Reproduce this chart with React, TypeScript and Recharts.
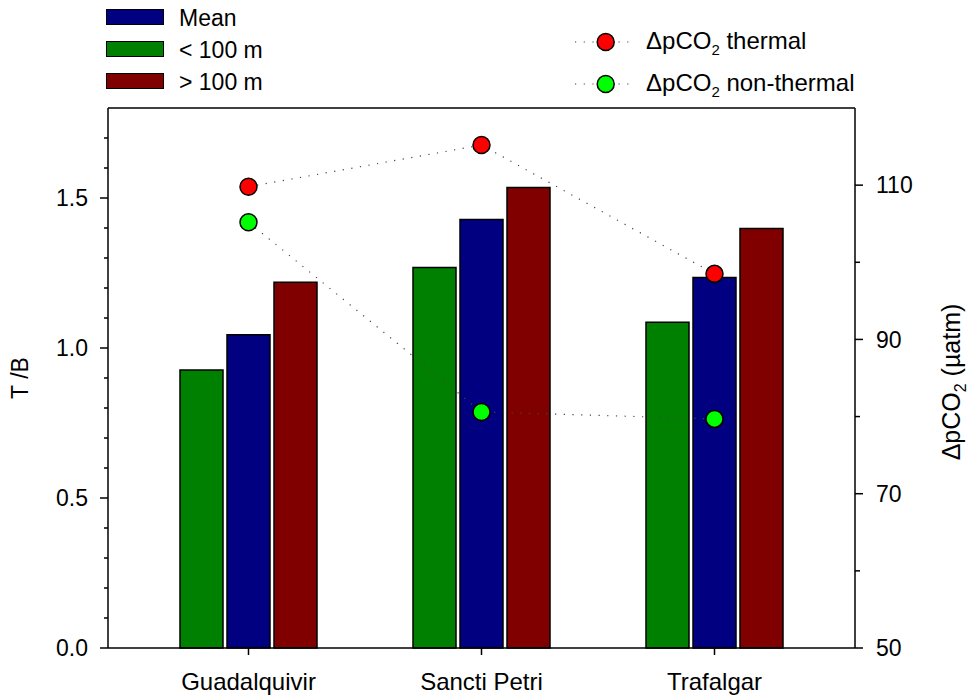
import { ComposedChart, Bar, Line, XAxis, YAxis, ReferenceLine } from 'recharts';

const sites = ['Guadalquivir', 'Sancti Petri', 'Trafalgar'];
const below100 = [0.927, 1.268, 1.086];
const meanTB = [1.044, 1.428, 1.235];
const above100 = [1.219, 1.535, 1.398];
const thermal = [109.8, 115.2, 98.5];
const nonThermal = [105.2, 80.6, 79.7];

const leftTicks = [0, 0.1, 0.2, 0.3, 0.4, 0.5, 0.6, 0.7, 0.8, 0.9, 1.0, 1.1, 1.2, 1.3, 1.4, 1.5, 1.6, 1.7];
const leftLabels = [0, 0.5, 1.0, 1.5];
const rightTicks = [50, 60, 70, 80, 90, 100, 110];
const rightLabels = [50, 70, 90, 110];

const data = sites.map((site, i) => ({
  site,
  below: below100[i],
  mean: meanTB[i],
  above: above100[i],
  thermal: thermal[i],
  nonThermal: nonThermal[i],
}));

const FONT = '"Liberation Sans", Arial, sans-serif';
const GREEN = '#008000';
const BLUE = '#000080';
const RED = '#800000';

const isLabel = (list: number[], v: number) => list.some((l) => Math.abs(l - v) < 1e-6);

const LeftTick = ({ x, y, payload }: any) => {
  const major = isLabel(leftLabels, payload.value);
  return (
    <g>
      <line x1={x} x2={x - (major ? 8 : 4)} y1={y} y2={y} stroke="#000" strokeWidth={1.5} />
      {major && (
        <text x={x - 20} y={y} dy="0.36em" textAnchor="end" fontSize={23} fontFamily={FONT} fill="#000">
          {Number(payload.value).toFixed(1)}
        </text>
      )}
    </g>
  );
};

const RightTick = ({ x, y, payload }: any) => {
  const major = isLabel(rightLabels, payload.value);
  return (
    <g>
      <line x1={x} x2={x + (major ? 8 : 5)} y1={y} y2={y} stroke="#000" strokeWidth={1.5} />
      {major && (
        <text x={x + 21} y={y} dy="0.36em" textAnchor="start" fontSize={23} fontFamily={FONT} fill="#000">
          {payload.value}
        </text>
      )}
    </g>
  );
};

const BottomTick = ({ x, y, payload }: any) => (
  <g>
    <line x1={x} x2={x} y1={y} y2={y + 7} stroke="#000" strokeWidth={1.5} />
    <text x={x} y={y + 42} textAnchor="middle" fontSize={24} fontFamily={FONT} fill="#000">
      {payload.value}
    </text>
  </g>
);

const barLegend = [
  { label: 'Mean', color: BLUE, top: 9 },
  { label: '< 100 m', color: GREEN, top: 41 },
  { label: '> 100 m', color: RED, top: 73 },
];

const dotLegend = [
  { color: '#ff0000', cy: 42, text: ' thermal' },
  { color: '#00ff00', cy: 84, text: ' non-thermal' },
];

export default function App() {
  return (
    <div style={{ position: 'absolute', left: 0, top: 0, width: 970, height: 697, background: '#fff', fontFamily: FONT }}>
      <ComposedChart
        width={970}
        height={697}
        data={data}
        margin={{ top: 108, right: 0, bottom: 0, left: 0 }}
        barSize={43}
        barGap={4}
      >
        <XAxis
          dataKey="site"
          height={49}
          padding={{ left: 24, right: 24 }}
          axisLine={{ stroke: '#000', strokeWidth: 1.5 }}
          tickLine={false}
          tickSize={0}
          tickMargin={0}
          interval={0}
          tick={(p: any) => <BottomTick {...p} />}
        />
        <YAxis
          yAxisId="left"
          width={108}
          domain={[0, 1.8]}
          ticks={leftTicks}
          interval={0}
          axisLine={{ stroke: '#000', strokeWidth: 1.5 }}
          tickLine={false}
          tickSize={0}
          tickMargin={0}
          tick={(p: any) => <LeftTick {...p} />}
        />
        <YAxis
          yAxisId="right"
          orientation="right"
          width={115}
          domain={[50, 120]}
          ticks={rightTicks}
          interval={0}
          axisLine={{ stroke: '#000', strokeWidth: 1.5 }}
          tickLine={false}
          tickSize={0}
          tickMargin={0}
          tick={(p: any) => <RightTick {...p} />}
        />
        <ReferenceLine yAxisId="left" y={1.8} stroke="#000" strokeWidth={1.5} />
        <Bar yAxisId="left" dataKey="below" fill={GREEN} stroke="#000" strokeWidth={1.5} isAnimationActive={false} />
        <Bar yAxisId="left" dataKey="mean" fill={BLUE} stroke="#000" strokeWidth={1.5} isAnimationActive={false} />
        <Bar yAxisId="left" dataKey="above" fill={RED} stroke="#000" strokeWidth={1.5} isAnimationActive={false} />
        <Line
          yAxisId="right"
          type="linear"
          dataKey="thermal"
          stroke="#444"
          strokeWidth={1.2}
          strokeDasharray="1.2 7.5"
          dot={{ r: 8.5, fill: '#ff0000', stroke: '#000', strokeWidth: 1.5, strokeDasharray: 'none' }}
          activeDot={false}
          isAnimationActive={false}
        />
        <Line
          yAxisId="right"
          type="linear"
          dataKey="nonThermal"
          stroke="#444"
          strokeWidth={1.2}
          strokeDasharray="1.2 7.5"
          dot={{ r: 8.5, fill: '#00ff00', stroke: '#000', strokeWidth: 1.5, strokeDasharray: 'none' }}
          activeDot={false}
          isAnimationActive={false}
        />
      </ComposedChart>

      {barLegend.map((item) => (
        <div key={item.label}>
          <div
            style={{
              position: 'absolute',
              left: 106,
              top: item.top,
              width: 56,
              height: 14,
              background: item.color,
              border: '1.5px solid #000',
            }}
          />
          <div
            style={{
              position: 'absolute',
              left: 179,
              top: item.top - 4,
              height: 26,
              lineHeight: '26px',
              fontSize: 23,
              whiteSpace: 'nowrap',
            }}
          >
            {item.label}
          </div>
        </div>
      ))}

      {dotLegend.map((item) => (
        <div key={item.text}>
          <svg style={{ position: 'absolute', left: 570, top: item.cy - 12 }} width={70} height={24}>
            <line x1={5} x2={63} y1={12} y2={12} stroke="#444" strokeWidth={1.2} strokeDasharray="1.2 7.5" />
            <circle cx={35.7} cy={12} r={8.5} fill={item.color} stroke="#000" strokeWidth={1.5} />
          </svg>
          <div
            style={{
              position: 'absolute',
              left: 646,
              top: item.cy - 15,
              height: 28,
              lineHeight: '28px',
              fontSize: 24,
              whiteSpace: 'nowrap',
            }}
          >
            ΔpCO<sub style={{ fontSize: 15, verticalAlign: -6, lineHeight: 0 }}>2</sub>
            {item.text}
          </div>
        </div>
      ))}

      <div
        style={{
          position: 'absolute',
          left: 20,
          top: 378,
          transform: 'translate(-50%, -50%) rotate(-90deg)',
          fontSize: 23,
          whiteSpace: 'nowrap',
        }}
      >
        T /B
      </div>
      <div
        style={{
          position: 'absolute',
          left: 951,
          top: 382,
          transform: 'translate(-50%, -50%) rotate(-90deg)',
          fontSize: 25,
          whiteSpace: 'nowrap',
        }}
      >
        ΔpCO<sub style={{ fontSize: 16, verticalAlign: -6, lineHeight: 0 }}>2</sub> (µatm)
      </div>
    </div>
  );
}
